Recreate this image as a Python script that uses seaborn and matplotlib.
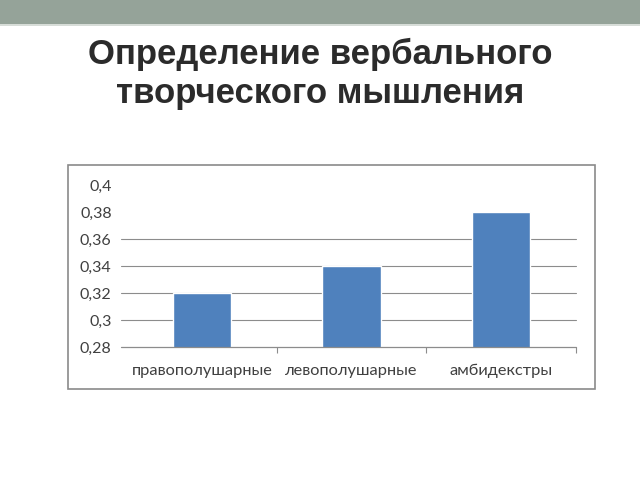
import matplotlib
matplotlib.use("Agg")
import matplotlib.pyplot as plt
from matplotlib.patches import Rectangle
import seaborn as sns
import pandas as pd

categories = ["правополушарные", "левополушарные", "амбидекстры"]
values = [0.32, 0.34, 0.38]
yticks = [0.28, 0.30, 0.32, 0.34, 0.36, 0.38, 0.40]
ytick_labels = ["0,28", "0,3", "0,32", "0,34", "0,36", "0,38", "0,4"]
grid_values = [0.30, 0.32, 0.34, 0.36]  # the upper two lines are not visible on the slide
title = "Определение вербального\nтворческого мышления"

sns.set_theme(style="white")
plt.rcParams["font.family"] = ["Lato", "DejaVu Sans"]

W, H = 640, 480
fig = plt.figure(figsize=(6.4, 4.8), dpi=100)

# top band of the slide
fig.patches.append(Rectangle((0, 1 - 24 / H), 1, 24 / H, transform=fig.transFigure,
                             facecolor="#95a399", edgecolor="none", zorder=0))
fig.patches.append(Rectangle((0, 1 - 26 / H), 1, 2 / H, transform=fig.transFigure,
                             facecolor="#d7ddd8", edgecolor="none", zorder=0))

fig.text(0.5, 1 - 74 / H, title, ha="center", va="center", fontsize=25,
         fontweight="bold", color="#2b2b2b", linespacing=1.2,
         family=["Liberation Sans", "DejaVu Sans"])

# chart frame
fig.patches.append(Rectangle((68 / W, 1 - 389 / H), (595 - 68) / W, (389 - 165) / H,
                             transform=fig.transFigure, facecolor="white",
                             edgecolor="#8a8a8a", linewidth=1.2, zorder=0))

ax = fig.add_axes([127 / W, 1 - 347 / H, (576 - 127) / W, (347 - 185) / H])
ax.set_zorder(2)
ax.patch.set_alpha(0)

df = pd.DataFrame({"cat": categories, "val": values})
sns.barplot(data=df, x="cat", y="val", color="#4f81bd", saturation=1, width=0.39,
            ax=ax, zorder=3)

ax.set_ylim(0.28, 0.40)
ax.set_xlim(-0.5, 2.5)
ext = -6 / (576 - 127)
for g in grid_values:
    ax.axhline(g, xmin=ext, xmax=1, color="#8c8c8c", linewidth=0.8, clip_on=False, zorder=1)
ax.axhline(0.28, xmin=ext, xmax=1, color="#8c8c8c", linewidth=0.9, clip_on=False, zorder=4)

for s in ax.spines.values():
    s.set_visible(False)

ax.set_yticks(yticks)
ax.set_yticklabels(ytick_labels)
ax.tick_params(axis="y", length=0, pad=11, labelsize=11.5, labelcolor="#404040")
ax.set_xticks(range(len(categories)))
ax.set_xticklabels(categories)
ax.tick_params(axis="x", which="major", bottom=True, length=0, pad=12,
               labelsize=11.8, labelcolor="#404040")
ax.set_xticks([0.5, 1.5, 2.5], minor=True)
ax.tick_params(axis="x", which="minor", bottom=True, length=4, width=0.8,
               color="#8c8c8c", direction="out")
ax.set_xlabel("")
ax.set_ylabel("")

fig.savefig("out.png", dpi=100)
